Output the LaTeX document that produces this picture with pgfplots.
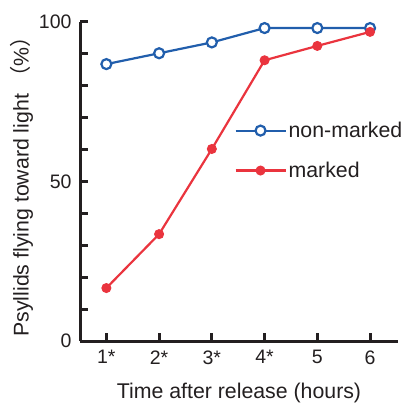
\documentclass[border=0pt]{standalone}
\usepackage{pgfplots}
\pgfplotsset{compat=1.18}
\usepackage{fontspec}
\setmainfont{Liberation Sans}
\newfontfamily\cjk{Noto Sans CJK SC}
\definecolor{cblue}{RGB}{33,94,172}
\definecolor{cred}{RGB}{234,52,62}
\definecolor{ctext}{RGB}{35,31,32}
\begin{document}
\begin{tikzpicture}
\begin{axis}[
  scale only axis, width=318pt, height=319pt,
  xmin=0.5, xmax=6.53, ymin=0, ymax=100,
  axis lines*=left,
  axis line style={line width=3pt, color=ctext},
  xtick={1,2,3,4,5,6},
  xticklabels={1*,2*,3*,4*,5,6},
  ytick={0,50,100},
  minor ytick={10,20,30,40,60,70,80,90},
  tick style={line width=3pt, color=ctext},
  major tick length=8pt, minor tick length=8pt,
  tick align=inside,
  ticklabel style={font=\fontsize{19.5}{22}\selectfont, color=ctext},
  xticklabel style={yshift=-6pt},
  yticklabel style={xshift=-5pt},
  /pgf/number format/assume math mode=true,
  xlabel={Time after release (hours)},
  ylabel={Psyllids flying toward light {\cjk （}\%{\cjk ）}},
  label style={font=\fontsize{21.3}{24}\selectfont, color=ctext},
  xlabel style={yshift=-12pt},
  ylabel style={yshift=-1pt},
  legend style={draw=none, fill=none, at={(0.485,0.693)}, anchor=north west,
    font=\fontsize{21.3}{24}\selectfont, row sep=19pt, text=ctext, inner sep=0pt,
    /tikz/every even column/.append style={column sep=8pt}},
  legend cell align=left,
  legend image code/.code={\draw[mark repeat=2,mark phase=2] plot coordinates {(0pt,0pt)(25pt,0pt)(50pt,0pt)};},
  clip=false,
]
\addplot[cblue, line width=2.2pt, mark=*, mark options={fill=white, line width=2.2pt}, mark size=5pt]
 coordinates {(1,86.8) (2,90.2) (3,93.6) (4,98.1) (5,98.1) (6,98.1)};
\addlegendentry{non-marked}
\addplot[cred, line width=2.2pt, mark=*, mark options={fill=cred, line width=1pt}, mark size=4.5pt]
 coordinates {(1,16.6) (2,33.5) (3,60.2) (4,88) (5,92.5) (6,96.9)};
\addlegendentry{marked}
\end{axis}
\path (current axis.south west) ++(-80pt,-59pt);
\path (current axis.north east) ++(15pt,22pt);
\end{tikzpicture}
\end{document}
